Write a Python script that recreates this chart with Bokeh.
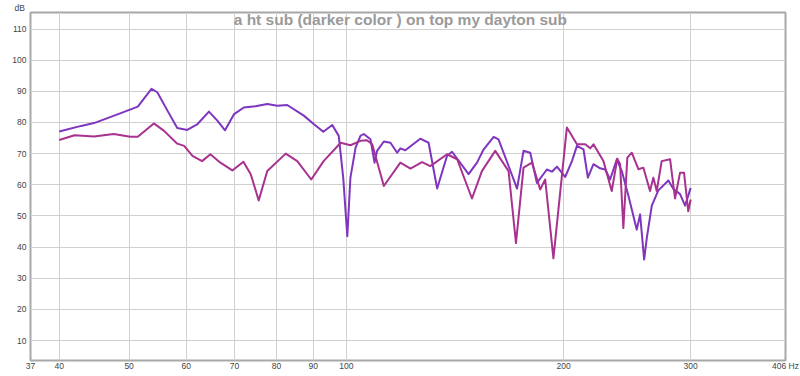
from bokeh.plotting import figure
from bokeh.models import Range1d, FixedTicker, Label
from bokeh.embed import file_html
from bokeh.resources import INLINE

title_text = "a ht sub (darker color ) on top my dayton sub"

# Upper (darker purple) curve
ht_freq = [40, 42.9, 44.7, 48.7, 51.4, 53.7, 54.7, 56.5, 58.3, 60.2, 62.2, 64.5, 66.3, 67.9,
           69.9, 72.1, 74.8, 77.7, 80.2, 82.8, 87.3, 90.1, 92.9, 95.6, 97.6, 99.0, 100.3,
           101.3, 103.0, 104.6, 105.7, 108.0, 109.4, 110.3, 112.7, 115.1, 117.6, 118.8,
           120.7, 126.6, 130.0, 133.6, 137.9, 140.1, 147.7, 151.7, 155.0, 160.0, 162.5,
           172.4, 176.0, 179.8, 183.7, 189.6, 192.7, 195.8, 201.0, 205.4, 208.7, 213.1,
           216.1, 220.0, 224.7, 228.4, 232.0, 237.0, 240.8, 246.0, 252.6, 255.3, 258.6,
           260.8, 265.0, 270.6, 279.4, 283.8, 290.0, 294.7, 300.0]
ht_db = [77.1, 78.9, 79.8, 83.0, 85.1, 90.8, 89.7, 83.8, 78.2, 77.6, 79.5, 83.5, 80.5, 77.5,
         82.7, 84.8, 85.2, 85.9, 85.4, 85.6, 82.2, 79.5, 77.0, 79.2, 75.7, 62.3, 43.5,
         62.3, 72.0, 75.7, 76.3, 74.6, 67.1, 70.9, 73.9, 73.5, 70.3, 71.7,
         71.1, 74.8, 73.5, 58.8, 69.3, 70.6, 63.4, 67.1, 71.4, 75.4, 74.6,
         58.8, 70.9, 70.3, 60.6, 64.9, 64.2, 65.8, 62.5, 67.6, 72.5, 71.4,
         62.3, 66.6, 65.3, 64.9, 61.7, 68.2, 64.4, 56.4, 45.6, 50.5, 36.0,
         42.9, 53.3, 58.2, 61.4, 58.7, 57.0, 53.3, 59.0]

# Lower (magenta) curve
dayton_freq = [40, 42.0, 44.7, 47.6, 50.2, 51.4, 54.1, 55.9, 58.3, 59.6, 61.2, 63.1, 64.8,
               66.9, 69.5, 72.0, 73.7, 75.6, 77.7, 82.4, 85.5, 89.4, 93.0, 98.2, 101.3,
               104.6, 106.8, 108.6, 112.7, 118.8, 122.7, 127.3, 130.7, 137.9, 142.4,
               149.3, 154.1, 160.8, 167.8, 171.8, 176.0, 180.8, 185.6, 188.6, 193.6,
               202.1, 208.7, 214.3, 217.7, 220.0, 227.1, 233.2, 237.4, 239.5, 242.0,
               245.1, 248.6, 253.9, 258.0, 263.5, 266.3, 269.2, 273.5, 280.9, 285.4,
               290.0, 293.7, 297.7, 300.0]
dayton_db = [74.4, 75.9, 75.5, 76.3, 75.4, 75.4, 79.7, 77.3, 73.2, 72.5, 69.3, 67.6, 69.8,
             67.1, 64.6, 67.4, 63.4, 55.0, 64.4, 70.0, 67.6, 61.7, 67.6, 73.5, 72.7,
             74.1, 74.3, 73.0, 59.6, 67.1, 65.2, 67.3, 66.0, 69.8, 68.2,
             55.6, 64.4, 70.9, 64.4, 41.3, 65.5, 67.1, 58.5, 61.7, 36.4,
             78.4, 73.0, 73.0, 71.7, 73.0, 67.6, 58.0, 68.4, 66.6, 46.1,
             68.7, 70.3, 65.0, 65.5, 58.0, 62.3, 58.0, 67.6, 68.2, 55.6,
             63.9, 63.9, 51.5, 55.3]

x_grid_ticks = [40, 50, 60, 70, 80, 90, 100, 200, 300]
x_tick_values = [36.5, 40, 50, 60, 70, 80, 90, 100, 200, 300, 406]
x_tick_labels = ["37", "40", "50", "60", "70", "80", "90", "100", "200", "300", "406 Hz"]
y_ticks = [10, 20, 30, 40, 50, 60, 70, 80, 90, 100, 110]

p = figure(width=800, height=376, x_axis_type="log",
           x_range=Range1d(36.5, 406), y_range=Range1d(3.6, 115.3),
           output_backend="svg", toolbar_location=None,
           title="dB",
           min_border_left=30, min_border_right=15, min_border_top=0, min_border_bottom=16)

p.title.align = "left"
p.title.offset = -16
p.title.standoff = 0
p.title.text_font = "Liberation Sans"
p.title.text_font_style = "normal"
p.title.text_font_size = "8.5px"
p.title.text_color = "#444444"

p.background_fill_color = "white"
p.border_fill_color = "white"
p.outline_line_color = "#a8a8a8"
p.outline_line_width = 2

p.xaxis.ticker = FixedTicker(ticks=x_tick_values)
p.xaxis.major_label_overrides = {v: t for v, t in zip(x_tick_values, x_tick_labels)}
p.yaxis.ticker = FixedTicker(ticks=y_ticks)
p.xgrid.ticker = FixedTicker(ticks=x_grid_ticks)
p.ygrid.ticker = FixedTicker(ticks=y_ticks)
p.xgrid.grid_line_color = "#d0d0d0"
p.ygrid.grid_line_color = "#d0d0d0"
p.xgrid.grid_line_width = 1
p.ygrid.grid_line_width = 1

for ax in (p.xaxis, p.yaxis):
    ax.axis_line_color = None
    ax.major_tick_line_color = None
    ax.minor_tick_line_color = None
    ax.major_tick_out = 0
    ax.major_tick_in = 0
    ax.minor_tick_out = 0
    ax.minor_tick_in = 0
    ax.major_label_text_font = "Liberation Sans"
    ax.major_label_text_font_size = "8.5px"
    ax.major_label_text_color = "#444444"
p.xaxis.major_label_standoff = 0
p.yaxis.major_label_standoff = 4

p.line(ht_freq, ht_db, line_color="#7f35be", line_width=2, line_join="round")
p.line(dayton_freq, dayton_db, line_color="#a8328f", line_width=2, line_join="round")

p.add_layout(Label(x=118.8, y=113.2, text=title_text, text_align="center",
                   text_baseline="middle", text_font="Liberation Sans",
                   text_font_style="bold", text_font_size="15.5px", text_color="#9a9a9a"))

open("out.html", "w").write(file_html(p, INLINE))
